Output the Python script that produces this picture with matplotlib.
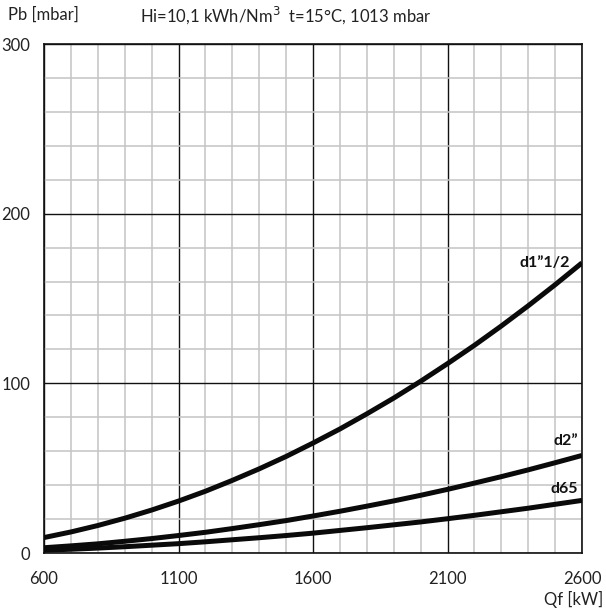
import matplotlib
matplotlib.use("Agg")
import matplotlib.pyplot as plt
from matplotlib.ticker import MultipleLocator

plt.rcParams['font.family'] = ['Lato', 'DejaVu Sans']

qf = [600, 700, 800, 900, 1000, 1100, 1200, 1300, 1400, 1500, 1600,
      1700, 1800, 1900, 2000, 2100, 2200, 2300, 2400, 2500, 2600]
d1_1_2 = [9.1, 12.4, 16.2, 20.5, 25.3, 30.6, 36.4, 42.8, 49.6, 56.9, 64.8,
          73.1, 82.0, 91.3, 101.2, 111.6, 122.4, 133.8, 145.7, 158.1, 171.0]
d2 = [3.1, 4.2, 5.4, 6.9, 8.5, 10.3, 12.2, 14.4, 16.7, 19.1, 21.8,
      24.6, 27.6, 30.7, 34.0, 37.5, 41.2, 45.0, 49.0, 53.2, 57.5]
d65 = [1.7, 2.2, 2.9, 3.7, 4.6, 5.5, 6.6, 7.8, 9.0, 10.3, 11.7,
       13.3, 14.9, 16.6, 18.3, 20.2, 22.2, 24.3, 26.4, 28.7, 31.0]
series_labels = ['d1\u201d1/2', 'd2\u201d', 'd65']
x_ticks = [600, 1100, 1600, 2100, 2600]
y_ticks = [0, 100, 200, 300]

fig = plt.figure(figsize=(6.06, 6.10), dpi=100)
ax = fig.add_axes([44/606, 1-553/610, (582-44)/606, (553-44)/610])
ax.set_xlim(600, 2600)
ax.set_ylim(0, 300)

ax.xaxis.set_minor_locator(MultipleLocator(100))
ax.yaxis.set_minor_locator(MultipleLocator(20))
ax.set_xticks(x_ticks)
ax.set_yticks(y_ticks)
ax.grid(which='minor', color='#c4c4c4', linewidth=1.1)
ax.grid(which='major', color='#111111', linewidth=1.0)
ax.set_axisbelow(True)
ax.tick_params(which='both', length=0, labelsize=12, colors='#222222')
ax.tick_params(axis='y', pad=10)
ax.tick_params(axis='x', pad=13)
for s in ax.spines.values():
    s.set_color('#111111')
    s.set_linewidth(1.2)

for ys in (d1_1_2, d2, d65):
    ax.plot(qf, ys, color='#0a0a0a', linewidth=3.6, solid_capstyle='butt', zorder=3)

lab_kw = dict(ha='right', va='center', fontsize=11.5, fontweight='bold', color='#111111')
ax.text(2555, 171, series_labels[0], **lab_kw)
ax.text(2585, 66, series_labels[1], **lab_kw)
ax.text(2585, 37.5, series_labels[2], **lab_kw)

fig.text(8/606, 1-15/610, 'Pb [mbar]', ha='left', va='center', fontsize=12, color='#222222')
fig.text(140/606, 1-15/610, 'Hi=10,1 kWh/Nm$^3$  t=15\u00b0C, 1013 mbar', ha='left', va='center', fontsize=12, color='#222222')
fig.text(603/606, 1-599/610, 'Qf [kW]', ha='right', va='center', fontsize=12, color='#222222')

fig.savefig('out.png', dpi=100)
